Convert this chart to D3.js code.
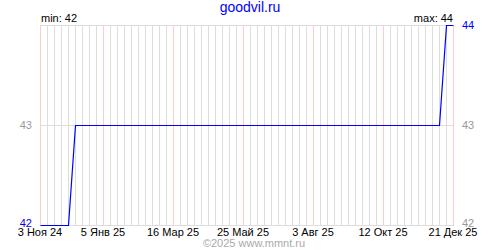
<!DOCTYPE html>
<html>
<head>
<meta charset="utf-8">
<script src="https://cdn.jsdelivr.net/npm/d3@7"></script>
<style>
  body { margin: 0; background: #fff; }
  text { font-family: "Liberation Sans", Arial, sans-serif; }
</style>
</head>
<body>
<svg width="500" height="250"></svg>
<script>
// Data
const dates = ['2024-11-03', '2024-12-01', '2024-12-08', '2025-12-07', '2025-12-14', '2025-12-21'];
const values = [42, 42, 43, 43, 44, 44];
const tick_dates = ['2024-11-03', '2025-01-05', '2025-03-16', '2025-05-25', '2025-08-03', '2025-10-12', '2025-12-21'];
const tick_labels = ['3 Ноя 24', '5 Янв 25', '16 Мар 25', '25 Май 25', '3 Авг 25', '12 Окт 25', '21 Дек 25'];
const y_ticks = [42, 43, 44];
const title = 'goodvil.ru';
const copyright = '©2025 www.mmnt.ru';

const svg = d3.select('svg');
const margin = { top: 25, right: 47, bottom: 25, left: 40 };
const width = +svg.attr('width');
const height = +svg.attr('height');

const parse = d3.utcParse('%Y-%m-%d');
const data = dates.map((d, i) => ({ date: parse(d), value: values[i] }));
const ticks = tick_dates.map(parse);

const x = d3.scaleUtc()
    .domain([ticks[0], ticks[ticks.length - 1]])
    .range([margin.left, width - margin.right]);
const y = d3.scaleLinear()
    .domain([d3.min(y_ticks), d3.max(y_ticks)])
    .range([height - margin.bottom, margin.top]);

const grid = svg.append('g').attr('shape-rendering', 'crispEdges');

// weekly gridlines
const weeks = d3.utcWeek.range(ticks[0], d3.utcDay.offset(ticks[ticks.length - 1], 1));
grid.selectAll('.week')
    .data(weeks)
    .enter().append('line')
    .attr('x1', d => Math.round(x(d)) + 0.5)
    .attr('x2', d => Math.round(x(d)) + 0.5)
    .attr('y1', y.range()[1])
    .attr('y2', y.range()[0])
    .attr('stroke', '#dddddd');

// horizontal gridlines
grid.selectAll('.hline')
    .data(y_ticks)
    .enter().append('line')
    .attr('x1', x.range()[0])
    .attr('x2', x.range()[1] + 1)
    .attr('y1', d => Math.round(y(d)) + 0.5)
    .attr('y2', d => Math.round(y(d)) + 0.5)
    .attr('stroke', '#dddddd');

// label gridlines (pink)
grid.selectAll('.major')
    .data(ticks)
    .enter().append('line')
    .attr('x1', d => Math.round(x(d)) + 0.5)
    .attr('x2', d => Math.round(x(d)) + 0.5)
    .attr('y1', y.range()[1])
    .attr('y2', y.range()[0] + 1)
    .attr('stroke', '#ffcccc');

// line
const line = d3.line()
    .x(d => x(d.date) + 0.5)
    .y(d => Math.round(y(d.value)) + 0.5);
svg.append('path')
    .datum(data)
    .attr('d', line)
    .attr('fill', 'none')
    .attr('stroke', '#0000ff')
    .attr('stroke-width', 1.2);

// x labels
svg.selectAll('.xlabel')
    .data(ticks)
    .enter().append('text')
    .attr('x', d => x(d))
    .attr('y', height - 14)
    .attr('text-anchor', 'middle')
    .attr('font-size', '11px')
    .attr('fill', '#000')
    .text((d, i) => tick_labels[i]);

// y labels
const y_min = d3.min(values);
const y_max = d3.max(values);
const ycol = v => (v === y_min || v === y_max) ? '#0000ff' : '#999999';
const ypos = v => v === y_min ? y(v) - 2 : y(v);
svg.selectAll('.ylabel-left')
    .data(y_ticks.filter(v => v !== y_max))
    .enter().append('text')
    .attr('x', margin.left - 8)
    .attr('y', ypos)
    .attr('dy', '0.35em')
    .attr('text-anchor', 'end')
    .attr('font-size', '11px')
    .attr('fill', ycol)
    .text(d => d);
svg.selectAll('.ylabel-right')
    .data(y_ticks)
    .enter().append('text')
    .attr('x', x.range()[1] + 9)
    .attr('y', ypos)
    .attr('dy', '0.35em')
    .attr('text-anchor', 'start')
    .attr('font-size', '11px')
    .attr('fill', d => d === y_max ? '#0000ff' : '#999999')
    .text(d => d);

// min / max
svg.append('text')
    .attr('x', margin.left + 1)
    .attr('y', 22)
    .attr('font-size', '11px')
    .attr('fill', '#000')
    .text(`min: ${y_min}`);
svg.append('text')
    .attr('x', x.range()[1])
    .attr('y', 22)
    .attr('text-anchor', 'end')
    .attr('font-size', '11px')
    .attr('fill', '#000')
    .text(`max: ${y_max}`);

// title
svg.append('text')
    .attr('x', width / 2)
    .attr('y', 12)
    .attr('text-anchor', 'middle')
    .attr('font-size', '14px')
    .attr('fill', '#0000ff')
    .text(title);

// copyright
svg.append('text')
    .attr('x', 254)
    .attr('y', 247)
    .attr('text-anchor', 'middle')
    .attr('font-size', '11px')
    .attr('fill', '#aaaaaa')
    .text(copyright);
</script>
</body>
</html>
